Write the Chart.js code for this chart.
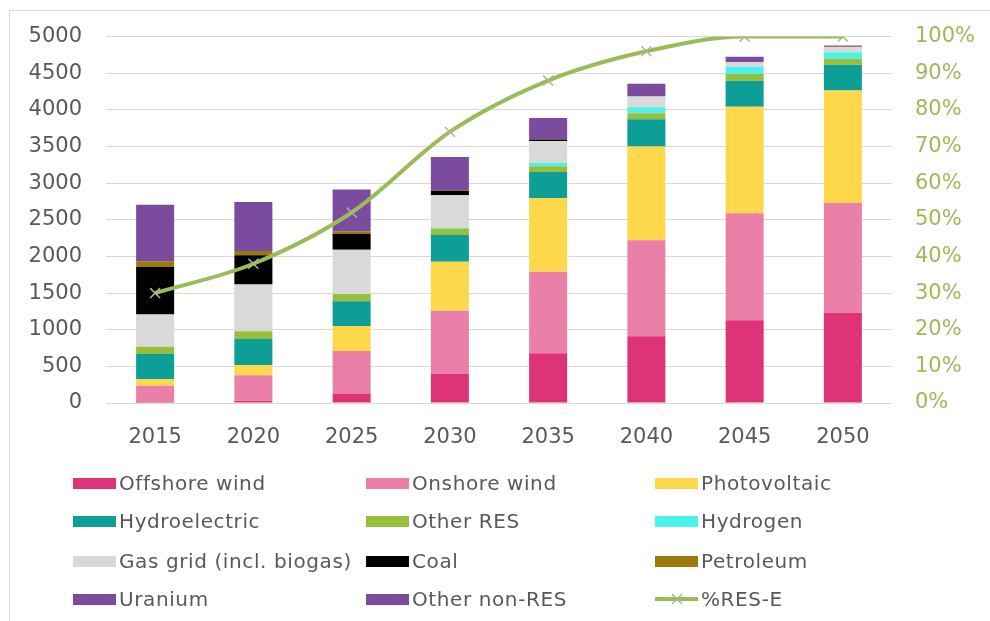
<!DOCTYPE html>
<html>
<head>
<meta charset="utf-8">
<script src="https://cdn.jsdelivr.net/npm/chart.js@4.4.1/dist/chart.umd.min.js"></script>
<style>
  html, body { margin: 0; padding: 0; background: #fff; }
  #wrap { position: relative; width: 990px; height: 621px; overflow: hidden; }
  #frame { position: absolute; left: 9px; top: 10px; width: 990px; height: 700px;
           border-left: 1px solid #d9d9d9; border-top: 1px solid #d9d9d9; }
  #cv { position: absolute; left: 0; top: 0; }
  #legend { position: absolute; left: 0; top: 0; width: 990px; height: 621px;
            font-family: "DejaVu Sans", Verdana, sans-serif; font-size: 20px;
            letter-spacing: 0.6px; color: #595959; }
  .item { position: absolute; height: 26px; display: flex; align-items: center; white-space: nowrap; }
  .sw { width: 43px; height: 11px; margin-right: 3px; flex: none; }
  .lsw { width: 43px; height: 20px; margin-right: 3px; flex: none; }
</style>
</head>
<body>
<div id="wrap">
  <div id="frame"></div>
  <canvas id="cv" width="990" height="460"></canvas>
  <div id="legend"></div>
</div>
<script>
// ---- data ----
const categories = ['2015', '2020', '2025', '2030', '2035', '2040', '2045', '2050'];
const offshoreWind = [20, 30, 130, 395, 680, 910, 1130, 1230];
const onshoreWind  = [215, 350, 580, 865, 1110, 1310, 1460, 1500];
const photovoltaic = [88, 137, 340, 668, 1008, 1280, 1453, 1535];
const hydroelectric = [345, 358, 337, 363, 354, 372, 355, 350];
const otherRES     = [99, 105, 100, 91, 78, 82, 91, 82];
const hydrogen     = [0, 0, 0, 10, 45, 82, 99, 90];
const gasGrid      = [441, 636, 604, 444, 300, 146, 64, 68];
const coal         = [649, 399, 218, 59, 20, 0, 0, 0];
const petroleum    = [78, 59, 36, 10, 7, 0, 0, 5];
const uranium      = [772, 668, 0, 0, 0, 0, 0, 0];
const otherNonRES  = [0, 0, 568, 453, 286, 173, 73, 18];
const resShare     = [0.30, 0.38, 0.52, 0.74, 0.88, 0.96, 1.00, 1.00];
const leftTicks  = [0, 500, 1000, 1500, 2000, 2500, 3000, 3500, 4000, 4500, 5000];
const rightTicks = [0, 0.1, 0.2, 0.3, 0.4, 0.5, 0.6, 0.7, 0.8, 0.9, 1.0];

const FONT = '"DejaVu Sans", Verdana, sans-serif';
const LINE_COLOR = '#9BBB59';

const barSeries = [
  ['Offshore wind', offshoreWind, '#DE3477'],
  ['Onshore wind', onshoreWind, '#EA80A8'],
  ['Photovoltaic', photovoltaic, '#FDD84A'],
  ['Hydroelectric', hydroelectric, '#0E9E98'],
  ['Other RES', otherRES, '#96BF3C'],
  ['Hydrogen', hydrogen, '#4DF2EA'],
  ['Gas grid (incl. biogas)', gasGrid, '#D9D9D9'],
  ['Coal', coal, '#000000'],
  ['Petroleum', petroleum, '#9A7A0A'],
  ['Uranium', uranium, '#7A4B9E'],
  ['Other non-RES', otherNonRES, '#7A4B9E']
];

const datasets = barSeries.map(([label, data, color]) => ({
  type: 'bar', label, data, backgroundColor: color, borderWidth: 0,
  stack: 's', yAxisID: 'y', order: 2,
  barPercentage: 0.9, categoryPercentage: 0.43
}));
datasets.push({
  type: 'line', label: '%RES-E', data: resShare, yAxisID: 'y1', order: 0,
  borderColor: LINE_COLOR, borderWidth: 4, fill: false,
  cubicInterpolationMode: 'monotone', tension: 0.4,
  pointStyle: 'crossRot', pointRadius: 7, pointBorderWidth: 1.5,
  pointBorderColor: '#A9B98C', pointBackgroundColor: '#A9B98C'
});

const chart = new Chart(document.getElementById('cv'), {
  data: { labels: categories, datasets },
  options: {
    responsive: false, animation: false,
    layout: { padding: { top: 35, bottom: 0, left: 0, right: 0 } },
    plugins: { legend: { display: false }, tooltip: { enabled: false } },
    scales: {
      x: {
        stacked: true,
        grid: { display: false, drawTicks: false },
        border: { display: false },
        ticks: { color: '#595959', font: { family: FONT, size: 21 }, padding: 22 },
        afterFit: s => { s.height = 57; }
      },
      y: {
        stacked: true, position: 'left', min: 0, max: 5000,
        afterBuildTicks: s => { s.ticks = leftTicks.map(v => ({ value: v })); },
        grid: { color: '#D9D9D9', lineWidth: 1, drawTicks: false },
        border: { display: false },
        ticks: { color: '#595959', font: { family: FONT, size: 21 }, padding: 24,
                 callback: v => String(v) },
        afterFit: s => { s.width = 106; }
      },
      y1: {
        position: 'right', min: 0, max: 1,
        afterBuildTicks: s => { s.ticks = rightTicks.map(v => ({ value: v })); },
        grid: { display: false, drawTicks: false },
        border: { display: false },
        ticks: { color: '#9BBB59', font: { family: FONT, size: 21 }, padding: 23,
                 callback: v => Math.round(v * 100) + '%' },
        afterFit: s => { s.width = 98; }
      }
    }
  }
});

// ---- HTML legend built from the chart's datasets ----
const legendPos = [
  [73, 483], [366, 483], [655, 483],
  [73, 521], [366, 521], [655, 521],
  [73, 561], [366, 561], [655, 561],
  [73, 599], [366, 599], [655, 599]
];
const legendEl = document.getElementById('legend');
chart.data.datasets.forEach((ds, i) => {
  const [x, y] = legendPos[i];
  const item = document.createElement('div');
  item.className = 'item';
  item.style.left = x + 'px';
  item.style.top = (y - 13) + 'px';
  let sw;
  if (ds.type === 'line') {
    sw = document.createElement('canvas');
    sw.width = 43; sw.height = 20; sw.className = 'lsw';
    const c = sw.getContext('2d');
    c.strokeStyle = ds.borderColor; c.lineWidth = 4;
    c.beginPath(); c.moveTo(0, 10); c.lineTo(43, 10); c.stroke();
    c.strokeStyle = ds.pointBorderColor; c.lineWidth = 1.5;
    c.beginPath(); c.moveTo(17, 5); c.lineTo(27, 15); c.moveTo(27, 5); c.lineTo(17, 15); c.stroke();
  } else {
    sw = document.createElement('div');
    sw.className = 'sw';
    sw.style.background = ds.backgroundColor;
  }
  const txt = document.createElement('span');
  txt.textContent = ds.label;
  item.appendChild(sw); item.appendChild(txt);
  legendEl.appendChild(item);
});
</script>
</body>
</html>
